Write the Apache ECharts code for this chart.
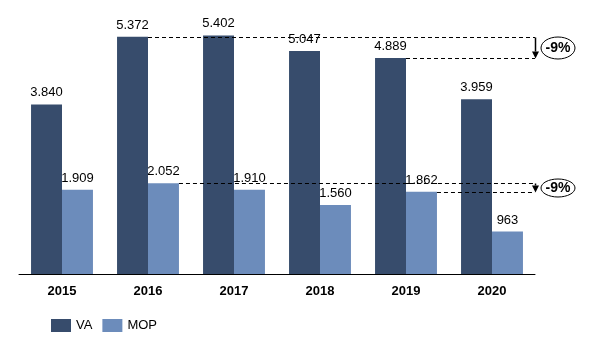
<!DOCTYPE html>
<html><head><meta charset="utf-8">
<script src="https://cdn.jsdelivr.net/npm/echarts@6/dist/echarts.min.js"></script>
<style>html,body{margin:0;padding:0;background:#fff}#c{width:598px;height:340px}</style>
</head><body><div id="c"></div>
<script>
const categories = ['2015','2016','2017','2018','2019','2020'];
const vaValues = [3840, 5372, 5402, 5047, 4889, 3959];
const mopValues = [1909, 2052, 1910, 1560, 1862, 963];
const seriesNames = ['VA','MOP'];
const changeLabels = ['-9%','-9%'];
const compareFrom = 1, compareTo = 4;

const FONT = 'Liberation Sans';
const fmt = v => v >= 1000 ? Math.floor(v/1000) + '.' + String(v % 1000).padStart(3,'0') : String(v);
const chart = echarts.init(document.getElementById('c'), null, {renderer:'canvas'});
const lbl = {show:true, position:'top', distance:5, color:'#000', fontFamily:FONT, fontSize:13, formatter:p=>fmt(p.value)};
chart.setOption({
  animation:false,
  grid:{left:19, right:63, top:9, bottom:66},
  legend:{left:46, top:314, itemWidth:20, itemHeight:13, itemGap:10, icon:'rect',
    textStyle:{fontFamily:FONT, fontSize:13, color:'#000'}, data:seriesNames},
  xAxis:{type:'category', data:categories, axisTick:{show:false},
    axisLine:{lineStyle:{color:'#000', width:1}},
    axisLabel:{color:'#000', fontFamily:FONT, fontSize:13, fontWeight:'bold', margin:11}},
  yAxis:{type:'value', min:0, max:6000, show:false, splitLine:{show:false}},
  series:[
    {name:seriesNames[0], type:'bar', data:vaValues, barWidth:'36%', barGap:'0%', itemStyle:{color:'#374c6c'}, label:lbl},
    {name:seriesNames[1], type:'bar', data:mopValues, barWidth:'36%', barGap:'0%', itemStyle:{color:'#6c8cbb'}, label:lbl}
  ]
});

function px(i, v){ return chart.convertToPixel({xAxisIndex:0, yAxisIndex:0}, [i, v]); }
const p0 = px(0,0), p5 = px(5,0);
const band = (p5[0]-p0[0])/5;
const endX = p5[0] + band/2;
const bw = band*0.36;
const graphics = [];
const dash = {stroke:'#000', lineWidth:1, lineDash:[4,3]};
function addCompare(vals, offset, label, ry, z){
  const a = px(compareFrom, vals[compareFrom]);
  const b = px(compareTo, vals[compareTo]);
  const ya = Math.round(a[1])+0.5, yb = Math.round(b[1])+0.5;
  graphics.push({type:'line', z:z, shape:{x1:a[0]+offset, y1:ya, x2:endX, y2:ya}, style:dash});
  graphics.push({type:'line', z:z, shape:{x1:b[0]+offset, y1:yb, x2:endX, y2:yb}, style:dash});
  const ax = Math.round(endX)+0.5;
  const head = Math.min(7, yb-ya);
  graphics.push({type:'line', z:z, shape:{x1:ax, y1:ya, x2:ax, y2:yb-head}, style:{stroke:'#000', lineWidth:1.5}});
  graphics.push({type:'polygon', z:z, shape:{points:[[ax-3.5,yb-head],[ax+3.5,yb-head],[ax,yb]]}, style:{fill:'#000'}});
  const cy = (ya+yb)/2;
  graphics.push({type:'ellipse', z:z, shape:{cx:endX+23, cy:cy, rx:17, ry:ry}, style:{fill:'#fff', stroke:'#000', lineWidth:1}});
  graphics.push({type:'text', z:z+1, x:endX+23, y:cy, style:{text:label, fontFamily:FONT, fontSize:14, fontWeight:'bold', fill:'#000', align:'center', verticalAlign:'middle'}});
}
addCompare(vaValues, 0, changeLabels[0], 11, 10);
addCompare(mopValues, bw, changeLabels[1], 9, 10);
chart.setOption({graphic:graphics});
</script></body></html>
